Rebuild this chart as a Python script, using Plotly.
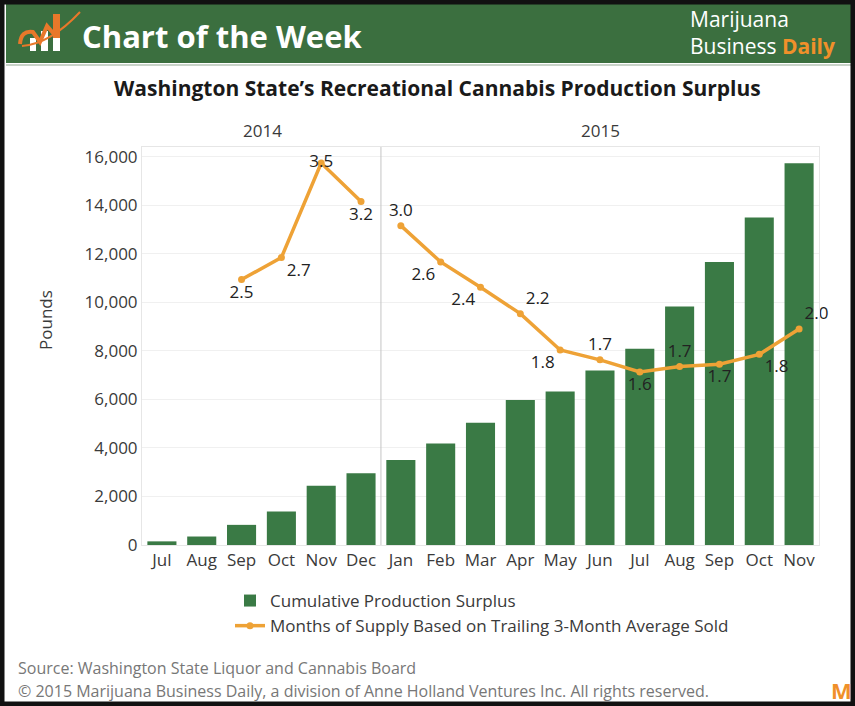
import plotly.graph_objects as go

# data
months = ["Jul", "Aug", "Sep", "Oct", "Nov", "Dec",
          "Jan", "Feb", "Mar", "Apr", "May", "Jun", "Jul ", "Aug ", "Sep ", "Oct ", "Nov "]
month_labels = ["Jul", "Aug", "Sep", "Oct", "Nov", "Dec",
                "Jan", "Feb", "Mar", "Apr", "May", "Jun", "Jul", "Aug", "Sep", "Oct", "Nov"]
surplus = [150, 350, 830, 1380, 2440, 2960, 3500, 4180, 5040, 5980,
           6330, 7190, 8090, 9830, 11660, 13500, 15730]

months_2014 = ["Sep", "Oct", "Nov", "Dec"]
supply_2014 = [2.47, 2.67, 3.53, 3.18]
months_2015 = ["Jan", "Feb", "Mar", "Apr", "May", "Jun", "Jul ", "Aug ", "Sep ", "Oct ", "Nov "]
supply_2015 = [2.96, 2.63, 2.40, 2.16, 1.83, 1.74, 1.63, 1.68, 1.70, 1.79, 2.02]

pos_2014 = ["bottom center", "bottom right", "middle center", "bottom center"]
pos_2015 = ["top center", "bottom left", "bottom left", "top right", "bottom left",
            "top center", "bottom center", "top center", "bottom center", "bottom right", "top right"]

W, H = 855, 706
L, R, T, B = 142, 36, 147, 161
PW = W - L - R
PH = H - T - B


def px(x):
    return (x - L) / PW


def py(y):
    return (H - B - y) / PH


GREEN = "#3a7a45"
HEADER = "#3b6f3f"
ORANGE = "#eea236"
LOGO_ORANGE = "#e8782a"
TXT = "#3a3a3a"
FONT = "Open Sans"


def note(x, y, text, size, color=TXT, anchor="left", **kw):
    return dict(x=px(x), y=py(y), xref="paper", yref="paper", text=text, showarrow=False,
                xanchor=anchor, yanchor="middle", font=dict(size=size, color=color, family=FONT), **kw)


def box(x0, y0, x1, y1, color):
    return dict(type="rect", xref="paper", yref="paper", x0=px(x0), x1=px(x1), y0=py(y1), y1=py(y0),
                fillcolor=color, line_width=0)


fig = go.Figure()

fig.add_trace(go.Bar(
    x=months, y=surplus, name="Cumulative Production Surplus",
    marker=dict(color=GREEN, line_width=0)))

fig.add_trace(go.Scatter(
    x=months_2014, y=supply_2014, yaxis="y2", mode="lines+markers+text",
    name="Months of Supply Based on Trailing 3-Month Average Sold",
    line=dict(color=ORANGE, width=3.5), marker=dict(color=ORANGE, size=7),
    text=[f"{v:.1f}" for v in supply_2014], textposition=pos_2014, cliponaxis=False,
    textfont=dict(size=17, color="#222")))

fig.add_trace(go.Scatter(
    x=months_2015, y=supply_2015, yaxis="y2", mode="lines+markers+text",
    showlegend=False,
    line=dict(color=ORANGE, width=3.5), marker=dict(color=ORANGE, size=7),
    text=[f"{v:.1f}" for v in supply_2015], textposition=pos_2015, cliponaxis=False,
    textfont=dict(size=17, color="#222")))

shapes = [
    # header banner
    box(6, 3, 852, 63, HEADER),
    dict(type="line", xref="paper", yref="paper", x0=px(6), x1=px(852), y0=py(65), y1=py(65),
         line=dict(color="#c9d3c9", width=2)),
    # logo
    box(30, 38, 36, 51, "white"),
    box(41, 31, 48, 51, "white"),
    box(53, 27, 60, 51, "white"),
    box(53, 14, 60, 38, LOGO_ORANGE),
    dict(type="path", xref="paper", yref="paper",
         path=f"M {px(20)},{py(44)} Q {px(21)},{py(30)} {px(33)},{py(32)} L {px(40)},{py(42)} "
              f"L {px(47)},{py(26)} L {px(54)},{py(34)}",
         line=dict(color=LOGO_ORANGE, width=4)),
    dict(type="path", xref="paper", yref="paper",
         path=f"M {px(22)},{py(46)} Q {px(50)},{py(44)} {px(80)},{py(12)}",
         line=dict(color=LOGO_ORANGE, width=2)),
    # year divider
    dict(type="line", xref="x", yref="paper", x0=5.5, x1=5.5, y0=0, y1=1,
         line=dict(color="#c4c4c4", width=1)),
    # outer frame
    dict(type="rect", xref="paper", yref="paper", x0=px(2), x1=px(853), y0=py(704), y1=py(2),
         line=dict(color="#111", width=5), layer="above"),
]

annotations = [
    note(80, 36, "<b>Chart of the Week</b>", 31, "white"),
    note(688, 33, "Marijuana<br>Business <b><span style='color:#f0902a'>Daily</span></b>", 21,
         "white", align="left"),
    note(437, 88, "<b>Washington State’s Recreational Cannabis Production Surplus</b>", 21,
         "#1a1a1a", "center"),
    note(262, 130, "2014", 17, anchor="center"),
    note(600, 130, "2015", 17, anchor="center"),
    note(45, 320, "Pounds", 17, anchor="center", textangle=-90),
    note(16, 668, "Source: Washington State Liquor and Cannabis Board", 16, "#777"),
    note(16, 691, "© 2015 Marijuana Business Daily, a division of Anne Holland Ventures Inc. "
                  "All rights reserved.", 16, "#777"),
    note(829, 690, "<b>M</b>", 22, "#f0902a"),
]

fig.update_layout(
    width=W, height=H,
    margin=dict(l=L, r=R, t=T, b=B),
    paper_bgcolor="white", plot_bgcolor="white",
    font=dict(family=FONT, size=17, color=TXT),
    bargap=0.27,
    showlegend=True,
    legend=dict(x=px(230), y=py(583), xanchor="left", yanchor="top",
                font=dict(size=17, color=TXT), tracegroupgap=0, bgcolor="rgba(0,0,0,0)"),
    xaxis=dict(type="category", tickvals=months, ticktext=month_labels, tickangle=0,
               range=[-0.5, 16.5],
               showgrid=False, showline=True, mirror=True, linecolor="#e6e6e6",
               ticks="", tickfont=dict(size=17, color=TXT)),
    yaxis=dict(range=[0, 16400], tickvals=list(range(0, 16001, 2000)), tickformat=",",
               showgrid=True, gridcolor="#f0f0f0", zeroline=False,
               showline=True, mirror=True, linecolor="#e6e6e6",
               ticks="", tickfont=dict(size=17, color=TXT)),
    yaxis2=dict(overlaying="y", range=[0.057, 3.675], visible=False),
    shapes=shapes,
    annotations=annotations,
)

fig.write_html("out.html", config={"displayModeBar": False},
               post_script="document.body.style.margin='0px';")
